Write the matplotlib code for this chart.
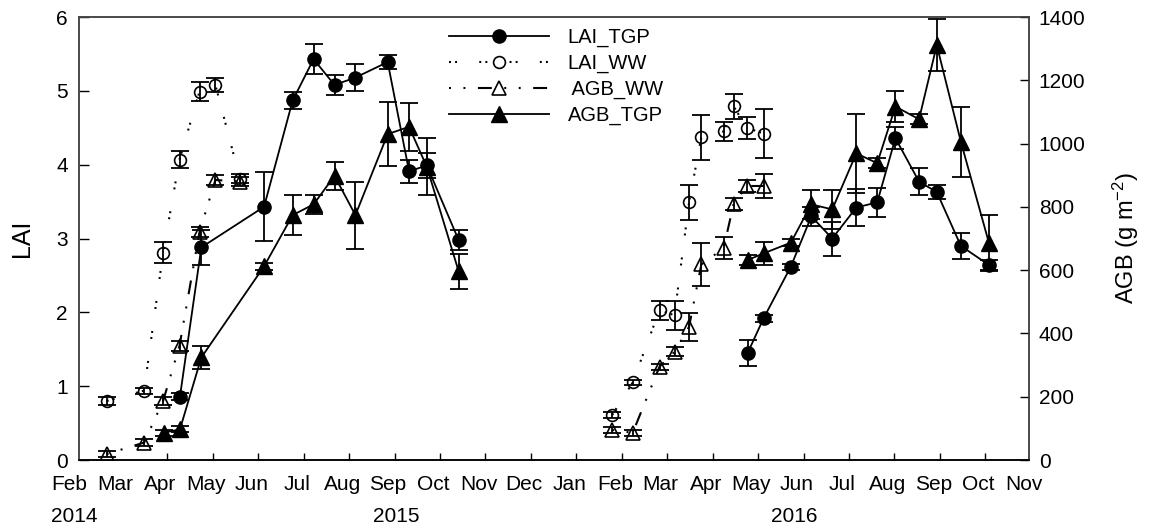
import matplotlib as mpl
mpl.use('Agg')
import matplotlib.pyplot as plt
from matplotlib.lines import Line2D
import matplotlib.transforms as mtransforms

plt.rcParams['font.family'] = ['Liberation Sans', 'DejaVu Sans']
plt.rcParams['mathtext.default'] = 'regular'
plt.rcParams['lines.scale_dashes'] = False

# x is counted in months from the first "Feb" on the axis
month_labels = ['Feb', 'Mar', 'Apr', 'May', 'Jun', 'Jul', 'Aug', 'Sep', 'Oct', 'Nov', 'Dec',
                'Jan', 'Feb', 'Mar', 'Apr', 'May', 'Jun', 'Jul', 'Aug', 'Sep', 'Oct', 'Nov']
year_labels = ['2014', '2015', '2016']
year_pos = [-0.05, 7.03, 15.79]

# first season
ww_x_1 = [0.67, 1.49, 1.91, 2.27, 2.71, 3.06, 3.60]
lai_ww_1 = [0.80, 0.94, 2.81, 4.07, 4.99, 5.08, 3.81]
lai_ww_err_1 = [0.05, 0.04, 0.14, 0.12, 0.13, 0.10, 0.06]
agb_ww_1 = [19, 55, 187, 361, 721, 885, 880]
agb_ww_err_1 = [10, 10, 12, 15, 15, 15, 15]

tgp_x_1 = [2.28, 2.75, 4.13, 4.76, 5.22, 5.68, 6.14, 6.85, 7.32, 7.71, 8.41]
lai_tgp_1 = [0.86, 2.88, 3.43, 4.87, 5.43, 5.08, 5.18, 5.39, 3.91, 3.99, 2.98]
lai_tgp_err_1 = [0.05, 0.24, 0.47, 0.12, 0.20, 0.14, 0.18, 0.10, 0.16, 0.17, 0.13]
agb_tgp_x_1 = [1.92] + tgp_x_1
agb_tgp_1 = [86, 97, 324, 612, 774, 808, 898, 774, 1030, 1053, 927, 597]
agb_tgp_err_1 = [10, 10, 37, 10, 62, 29, 45, 106, 102, 75, 90, 55]

# second season
ww_x_2 = [11.79, 12.24, 12.83, 13.16, 13.48, 13.75, 14.24, 14.46, 14.75, 15.13]
lai_ww_2 = [0.61, 1.05, 2.03, 1.96, 3.49, 4.37, 4.45, 4.79, 4.50, 4.42]
lai_ww_err_2 = [0.04, 0.04, 0.13, 0.20, 0.24, 0.30, 0.13, 0.17, 0.15, 0.33]
agb_ww_2 = [95, 86, 295, 342, 421, 618, 669, 809, 866, 866]
agb_ww_err_2 = [10, 10, 10, 14, 44, 68, 35, 20, 20, 37]

tgp_x_2 = [14.77, 15.12, 15.72, 16.17, 16.63, 17.16, 17.62, 18.02, 18.54, 18.93, 19.46, 20.08]
lai_tgp_2 = [1.45, 1.92, 2.62, 3.30, 3.00, 3.42, 3.49, 4.36, 3.77, 3.63, 2.90, 2.64]
lai_tgp_err_2 = [0.17, 0.05, 0.04, 0.13, 0.23, 0.25, 0.20, 0.15, 0.18, 0.10, 0.18, 0.07]
agb_tgp_2 = [632, 653, 687, 808, 792, 969, 938, 1117, 1077, 1311, 1006, 685]
agb_tgp_err_2 = [15, 37, 10, 45, 62, 126, 15, 50, 15, 83, 111, 89]

LAI_TGP = dict(ls='-', lw=1.3, color='k', marker='o', ms=9.5, mfc='k', mec='k')
LAI_WW = dict(ls=(0, (1.4, 3, 1.4, 16)), lw=1.5, color='k', marker='o', ms=8.5,
              mfc='none', mec='k', mew=1.2)
AGB_WW = dict(ls=(0, (1.4, 9, 1.4, 9, 10, 9)), lw=1.5, color='k', marker='^', ms=9.5,
              mfc='none', mec='k', mew=1.2)
AGB_TGP = dict(ls='-', lw=1.3, color='k', marker='^', ms=11, mfc='k', mec='k')
ERR = dict(fmt='none', ecolor='k', elinewidth=1.3, capsize=6.5, capthick=1.3)

fig = plt.figure(figsize=(11.49, 5.27), dpi=100)
ax = fig.add_axes([0.0688, 0.1271, 0.8268, 0.8406])
ax2 = ax.twinx()

for x, y, e in [(ww_x_1, lai_ww_1, lai_ww_err_1), (ww_x_2, lai_ww_2, lai_ww_err_2)]:
    ax.errorbar(x, y, yerr=e, **ERR)
    ax.plot(x, y, **LAI_WW)
for x, y, e in [(tgp_x_1, lai_tgp_1, lai_tgp_err_1), (tgp_x_2, lai_tgp_2, lai_tgp_err_2)]:
    ax.errorbar(x, y, yerr=e, **ERR)
    ax.plot(x, y, **LAI_TGP)
for x, y, e in [(ww_x_1, agb_ww_1, agb_ww_err_1), (ww_x_2, agb_ww_2, agb_ww_err_2)]:
    ax2.errorbar(x, y, yerr=e, **ERR)
    ax2.plot(x, y, **AGB_WW)
for x, y, e in [(agb_tgp_x_1, agb_tgp_1, agb_tgp_err_1), (tgp_x_2, agb_tgp_2, agb_tgp_err_2)]:
    ax2.errorbar(x, y, yerr=e, **ERR)
    ax2.plot(x, y, **AGB_TGP)

ax.set_xlim(0.06, 20.96)
ax.set_ylim(0, 6)
ax2.set_ylim(0, 1400)
ax.set_yticks(range(0, 7))
ax2.set_yticks(range(0, 1401, 200))
ax.set_xticks(range(2, 21))
ax.set_xticklabels([])

ax.tick_params(axis='y', direction='in', length=7, width=1, labelsize=15, pad=8)
ax.tick_params(axis='x', direction='in', length=5, width=1, pad=8)
ax2.tick_params(axis='y', direction='in', length=6.5, width=1, labelsize=15, pad=7)

for a in (ax, ax2):
    for side in ('top', 'right', 'left'):
        a.spines[side].set_color('#444444')
    a.spines['bottom'].set_color('k')
    for s in a.spines.values():
        s.set_linewidth(1.1)

ax.set_ylabel('LAI', fontsize=18, labelpad=16)
ax2.set_ylabel('AGB (g m$^{-2}$)', fontsize=17, labelpad=18)

# month and year labels under the axis
trans = mtransforms.blended_transform_factory(ax.transData, ax.transAxes)
for i, lab in enumerate(month_labels):
    ax.text(i - 0.15, -0.056, lab, transform=trans, ha='center', va='center',
            fontsize=15, clip_on=False)
for pos, lab in zip(year_pos, year_labels):
    ax.text(pos, -0.127, lab, transform=trans, ha='center', va='center',
            fontsize=15, clip_on=False)

handles = [Line2D([], [], **LAI_TGP), Line2D([], [], **LAI_WW),
           Line2D([], [], **AGB_WW), Line2D([], [], **AGB_TGP)]
labels = ['LAI_TGP', 'LAI_WW', ' AGB_WW', 'AGB_TGP']
ax2.legend(handles, labels, loc='upper left', bbox_to_anchor=(0.37, 1.016), frameon=False,
           fontsize=14.5, handlelength=5, handletextpad=0.9, labelspacing=0.33)

fig.savefig('out.png', dpi=100)
